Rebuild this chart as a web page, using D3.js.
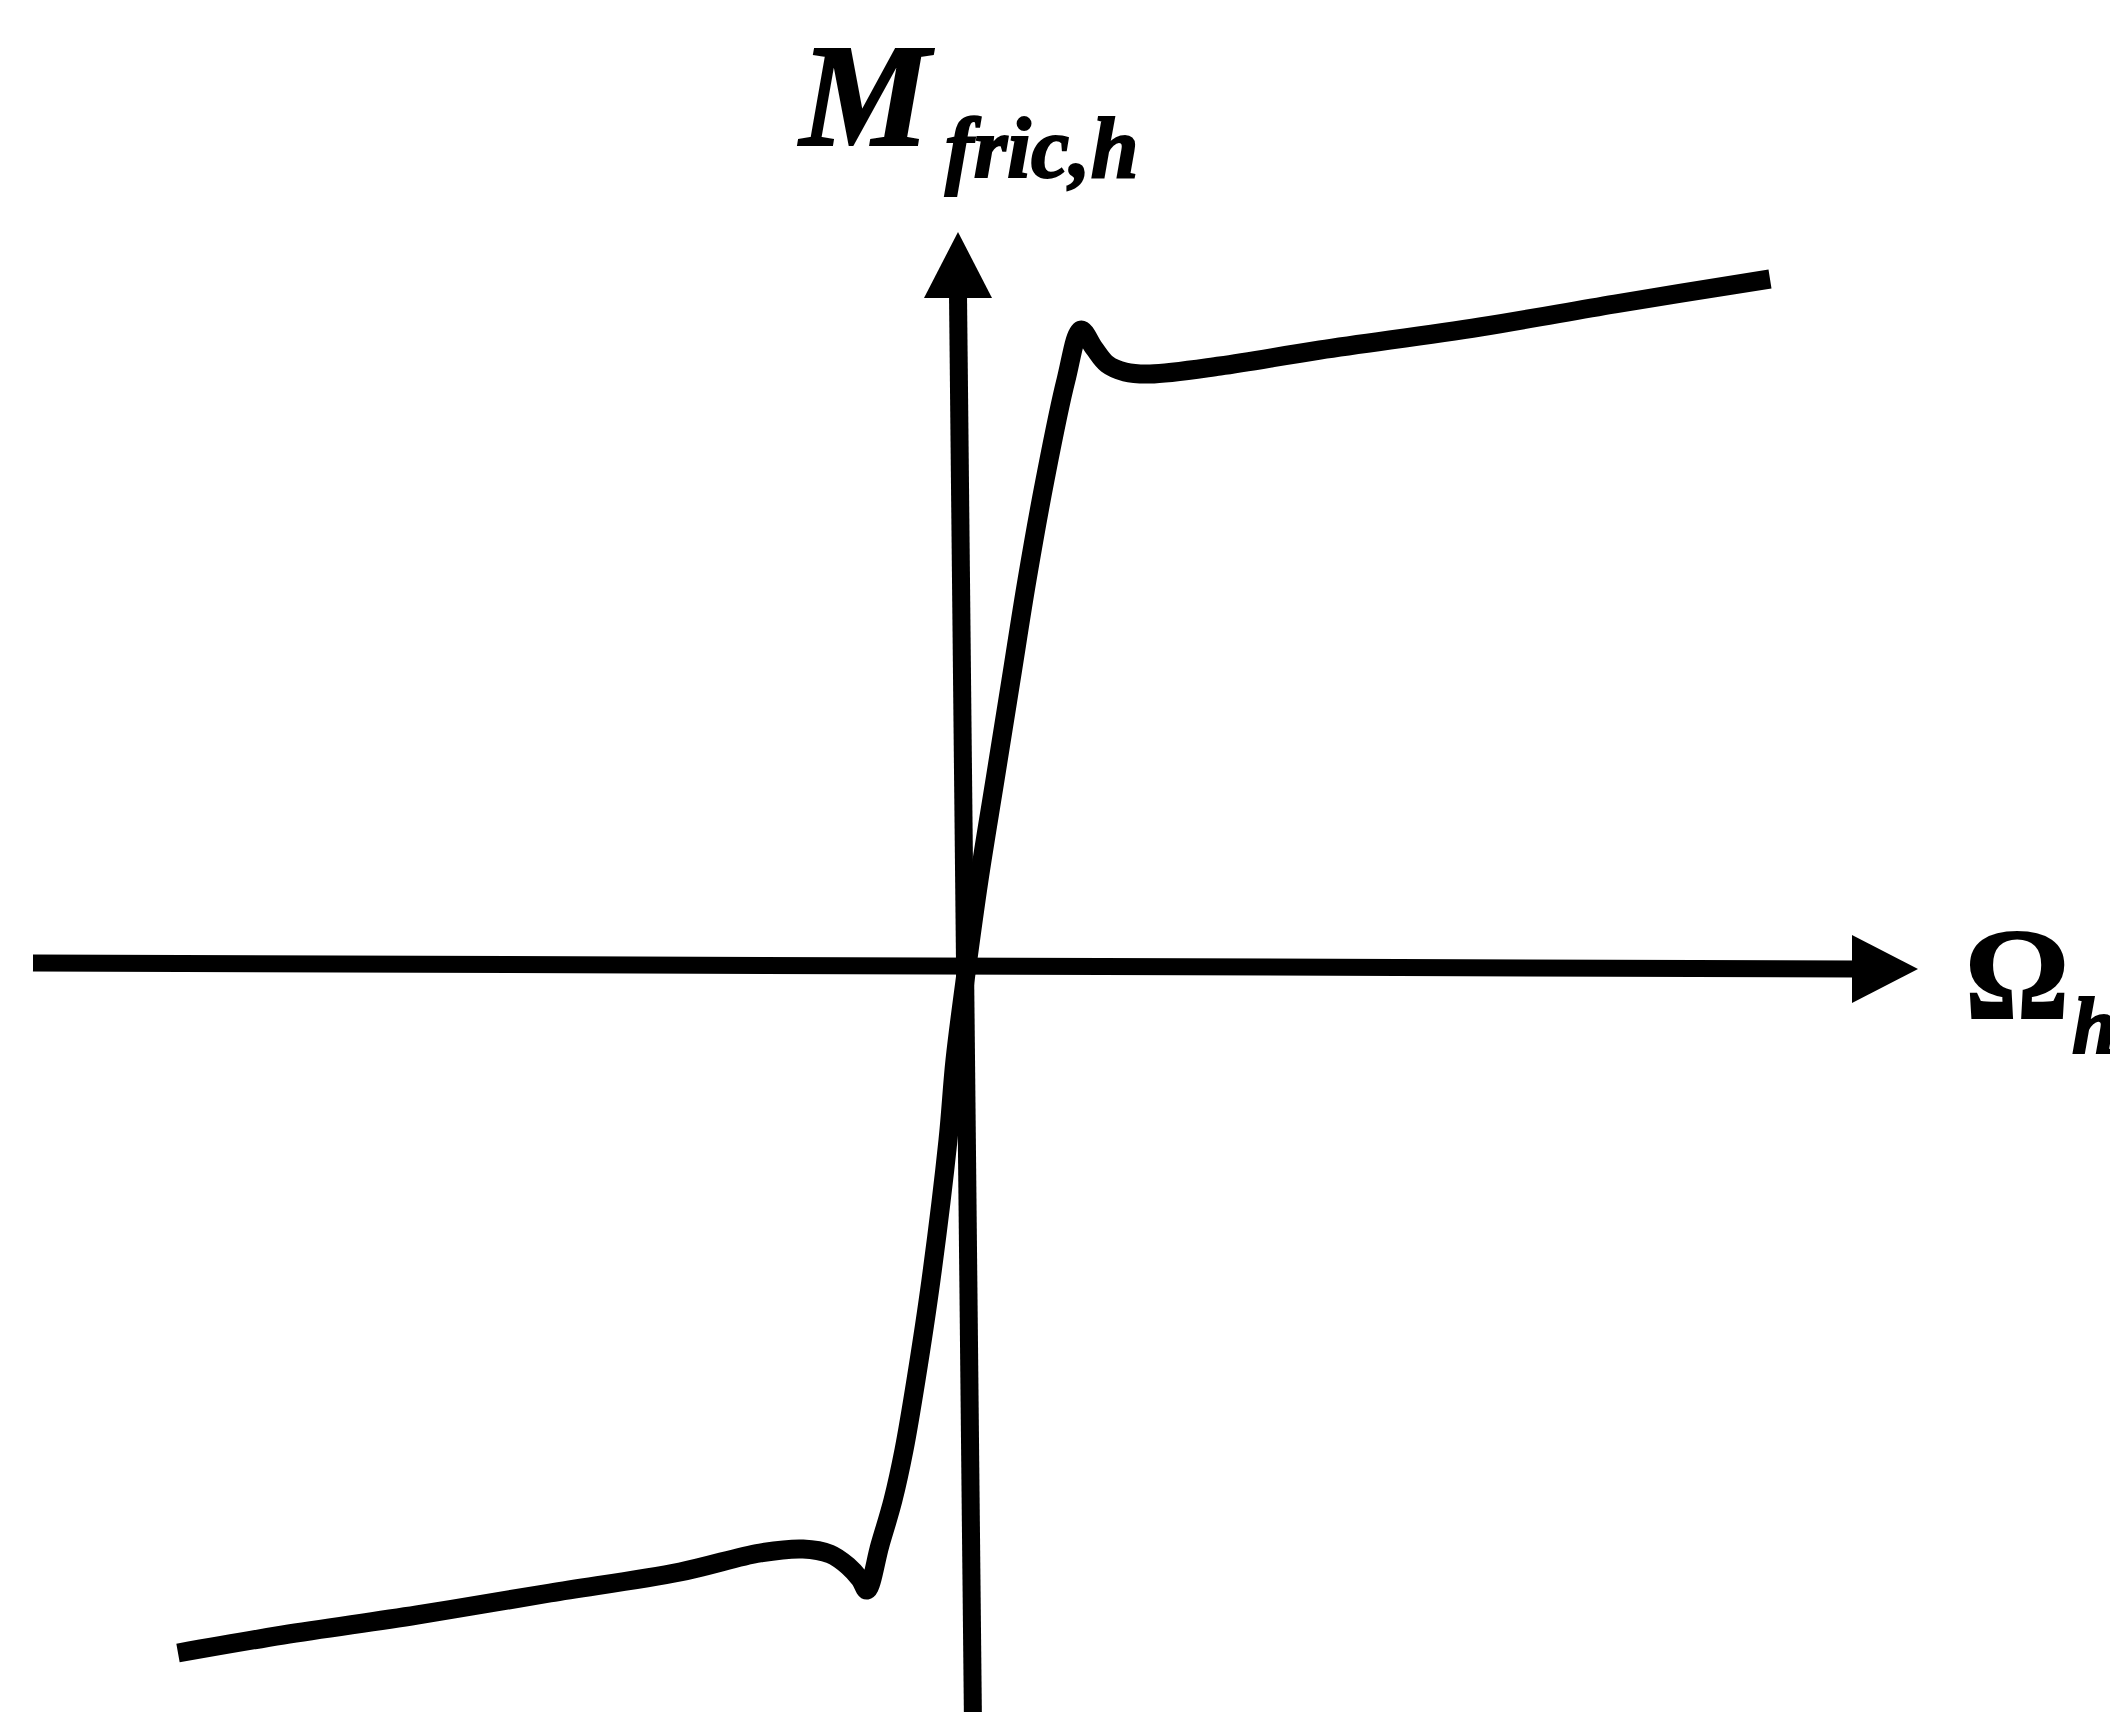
<!DOCTYPE html>
<meta charset="utf-8">

<!-- Load d3.js -->
<script src="https://d3js.org/d3.v7.min.js"></script>

<style>
  body { margin: 0; background: white; }

  .lbl {
    font-family: "Liberation Serif", "Times New Roman", serif;
    font-weight: 700;
    fill: black;
    stroke: black;
    stroke-width: 2px;
  }
</style>

<div id="my_dataviz"></div>

<script>

    // friction moment curve (omega_h vs M_fric,h)
    const omega = [-7.87, -6.82, -5.48, -4.15, -2.85, -2.05, -1.62, -1.35, -1.17, -1.05, -0.98,
                   -0.85, -0.72, -0.61, -0.49, -0.34, -0.17, -0.10, 0.02, 0.14, 0.30, 0.46, 0.62,
                   0.80, 1.01, 1.16, 1.29, 1.42, 1.60, 1.85, 2.55, 3.55, 5.15, 6.50, 8.05];
    const moment = [-6.87, -6.69, -6.49, -6.27, -6.06, -5.87, -5.83, -5.88, -6.00, -6.13, -6.24,
                    -5.79, -5.34, -4.84, -4.14, -3.14, -1.74, -0.94, 0.00, 0.86, 1.86, 2.86, 3.86,
                    4.86, 5.86, 6.36, 6.18, 6.02, 5.94, 5.92, 6.00, 6.16, 6.39, 6.62, 6.87];

    // axis ends (start, arrow tip) in data units
    const hAxisX = [-9.32, 9.53];
    const hAxisY = [0.03, -0.03];
    const vAxisX = [0.08, -0.07];
    const vAxisY = [-7.60, 7.34];

    const width = 2110,
          height = 1712;

    const svg = d3.select("#my_dataviz")
      .append("svg")
        .attr("width", width)
        .attr("height", height);

    // 100px per unit, origin where the axes cross
    const x = d3.scaleLinear()
      .domain([-10, 10])
      .range([-35, 1965]);

    const y = d3.scaleLinear()
      .domain([-10, 10])
      .range([1966, -34]);

    const arrowLen = 66, arrowHalf = 34;

    // horizontal axis
    const hx0 = x(hAxisX[0]), hy0 = y(hAxisY[0]);
    const hx1 = x(hAxisX[1]), hy1 = y(hAxisY[1]);
    svg.append("line")
      .attr("x1", hx0).attr("y1", hy0)
      .attr("x2", hx1 - arrowLen + 4).attr("y2", hy1)
      .attr("stroke", "black")
      .attr("stroke-width", 17);
    svg.append("path")
      .attr("d", `M${hx1},${hy1} L${hx1 - arrowLen},${hy1 - arrowHalf} L${hx1 - arrowLen},${hy1 + arrowHalf} Z`)
      .attr("fill", "black");

    // vertical axis
    const vx0 = x(vAxisX[0]), vy0 = y(vAxisY[0]);
    const vx1 = x(vAxisX[1]), vy1 = y(vAxisY[1]);
    svg.append("line")
      .attr("x1", vx0).attr("y1", vy0)
      .attr("x2", vx1).attr("y2", vy1 + arrowLen - 4)
      .attr("stroke", "black")
      .attr("stroke-width", 18);
    svg.append("path")
      .attr("d", `M${vx1},${vy1} L${vx1 - arrowHalf},${vy1 + arrowLen} L${vx1 + arrowHalf},${vy1 + arrowLen} Z`)
      .attr("fill", "black");

    // the curve
    const pts = omega.map((w, i) => [w, moment[i]]);
    const line = d3.line()
      .x(d => x(d[0]))
      .y(d => y(d[1]))
      .curve(d3.curveCatmullRom.alpha(0.5));

    svg.append("path")
      .datum(pts)
      .attr("d", line)
      .attr("fill", "none")
      .attr("stroke", "black")
      .attr("stroke-width", 19)
      .attr("stroke-linejoin", "round")
      .attr("stroke-linecap", "butt");

    // labels
    svg.append("text")
      .attr("class", "lbl")
      .attr("x", 800)
      .attr("y", 145)
      .attr("font-size", 146)
      .attr("font-style", "italic")
      .text("M");

    svg.append("text")
      .attr("class", "lbl")
      .attr("x", 945)
      .attr("y", 177)
      .attr("font-size", 86)
      .attr("font-style", "italic")
      .text("fric,h");

    svg.append("text")
      .attr("class", "lbl")
      .attr("x", 1965)
      .attr("y", 1018)
      .attr("font-size", 130)
      .text("Ω");

    svg.append("text")
      .attr("class", "lbl")
      .attr("x", 2072)
      .attr("y", 1053)
      .attr("font-size", 80)
      .attr("font-style", "italic")
      .text("h");

</script>
